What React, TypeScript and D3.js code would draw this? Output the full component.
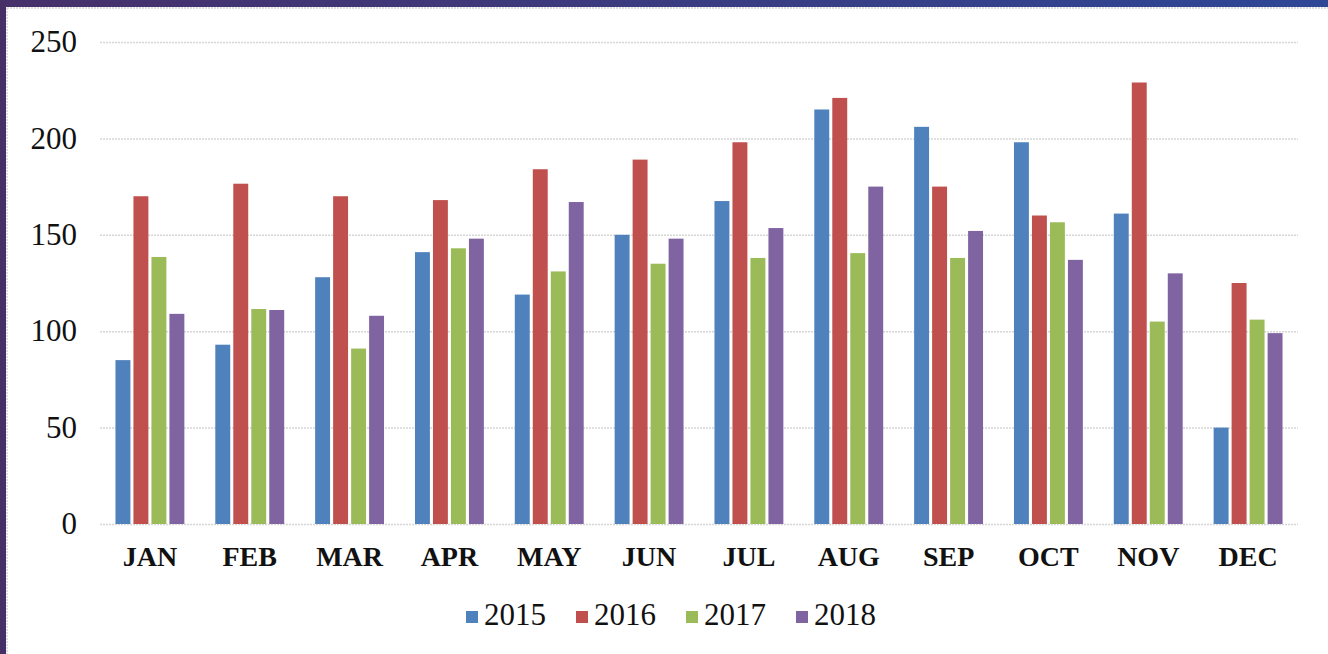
import React, { useEffect, useRef } from 'react'
import * as d3 from 'd3'

const months = ['JAN', 'FEB', 'MAR', 'APR', 'MAY', 'JUN', 'JUL', 'AUG', 'SEP', 'OCT', 'NOV', 'DEC']
const years = ['2015', '2016', '2017', '2018']
const colors = ['#4F81BD', '#C0504D', '#9BBB59', '#8064A2']

const values2015 = [85, 93, 128, 141, 119, 150, 167.5, 215, 206, 198, 161, 50]
const values2016 = [170, 176.5, 170, 168, 184, 189, 198, 221, 175, 160, 229, 125]
const values2017 = [138.5, 111.5, 91, 143, 131, 135, 138, 140.5, 138, 156.5, 105, 106]
const values2018 = [109, 111, 108, 148, 167, 148, 153.5, 175, 152, 137, 130, 99]
const series = [values2015, values2016, values2017, values2018]

const yTicks = [0, 50, 100, 150, 200, 250]

const W = 1328
const H = 654
const FONT = '"Liberation Serif", "DejaVu Serif", serif'

export default function App() {
  const ref = useRef<SVGSVGElement | null>(null)

  useEffect(() => {
    document.body.style.margin = '0'
    if (!ref.current) return
    const svg = d3.select(ref.current)
    svg.selectAll('*').remove()

    // frame
    const defs = svg.append('defs')
    const grad = defs.append('linearGradient').attr('id', 'topbar').attr('x1', '0').attr('x2', '1')
    grad.append('stop').attr('offset', '0').attr('stop-color', '#47306A')
    grad.append('stop').attr('offset', '1').attr('stop-color', '#2E4796')

    svg.append('rect').attr('width', W).attr('height', H).attr('fill', '#fff')
    svg.append('rect').attr('x', 0).attr('y', 0).attr('width', W).attr('height', 7).attr('fill', 'url(#topbar)')
    svg.append('rect').attr('x', 0).attr('y', 0).attr('width', 6).attr('height', H).attr('fill', '#452F65')
    svg.append('line').attr('x1', 7).attr('x2', W).attr('y1', 8).attr('y2', 8)
      .attr('stroke', '#dedede').attr('stroke-width', 2).attr('stroke-dasharray', '2,1')
    svg.append('line').attr('x1', 7).attr('x2', 7).attr('y1', 8).attr('y2', H)
      .attr('stroke', '#dedede').attr('stroke-width', 2).attr('stroke-dasharray', '2,1')

    const x0 = d3.scaleBand<string>().domain(months).range([100, 1298])
    const x1 = d3.scaleBand<string>().domain(years).range([0, x0.bandwidth()]).paddingInner(0.17).paddingOuter(0.86)
    const y = d3.scaleLinear().domain([0, 250]).range([524, 42])

    // gridlines
    svg.append('g')
      .selectAll('line')
      .data(yTicks)
      .join('line')
      .attr('x1', 100)
      .attr('x2', 1298)
      .attr('y1', (d) => y(d) + 0.5)
      .attr('y2', (d) => y(d) + 0.5)
      .attr('stroke', '#d6d6d6')
      .attr('stroke-width', 1.5)
      .attr('stroke-dasharray', '2,1')

    // y labels
    svg.append('g')
      .selectAll('text')
      .data(yTicks)
      .join('text')
      .attr('x', 77)
      .attr('y', (d) => y(d))
      .attr('dy', '0.33em')
      .attr('text-anchor', 'end')
      .style('font-family', FONT)
      .style('font-size', '31px')
      .attr('fill', '#111')
      .text((d) => d)

    // bars
    const groups = svg.append('g')
      .selectAll('g')
      .data(months)
      .join('g')
      .attr('transform', (m) => `translate(${x0(m)},0)`)

    groups
      .selectAll('rect')
      .data((m, i) => years.map((yr, k) => ({ yr, k, v: series[k][i] })))
      .join('rect')
      .attr('x', (d) => x1(d.yr)!)
      .attr('width', x1.bandwidth())
      .attr('y', (d) => y(d.v))
      .attr('height', (d) => y(0) - y(d.v))
      .attr('fill', (d) => colors[d.k])

    // month labels
    svg.append('g')
      .selectAll('text')
      .data(months)
      .join('text')
      .attr('x', (m) => x0(m)! + x0.bandwidth() / 2)
      .attr('y', 566)
      .attr('text-anchor', 'middle')
      .style('font-family', FONT)
      .style('font-size', '28px')
      .style('font-weight', 'bold')
      .attr('fill', '#111')
      .text((m) => m)

    // legend
    const legend = svg.append('g')
      .selectAll('g')
      .data(years)
      .join('g')
      .attr('transform', (d, i) => `translate(${466 + i * 110},0)`)
    legend.append('rect')
      .attr('x', 0)
      .attr('y', 611)
      .attr('width', 12)
      .attr('height', 12)
      .attr('fill', (d, i) => colors[i])
    legend.append('text')
      .attr('x', 18)
      .attr('y', 625)
      .style('font-family', FONT)
      .style('font-size', '31px')
      .attr('fill', '#111')
      .text((d) => d)
  }, [])

  return <svg ref={ref} width={W} height={H} style={{ display: 'block' }} />
}
